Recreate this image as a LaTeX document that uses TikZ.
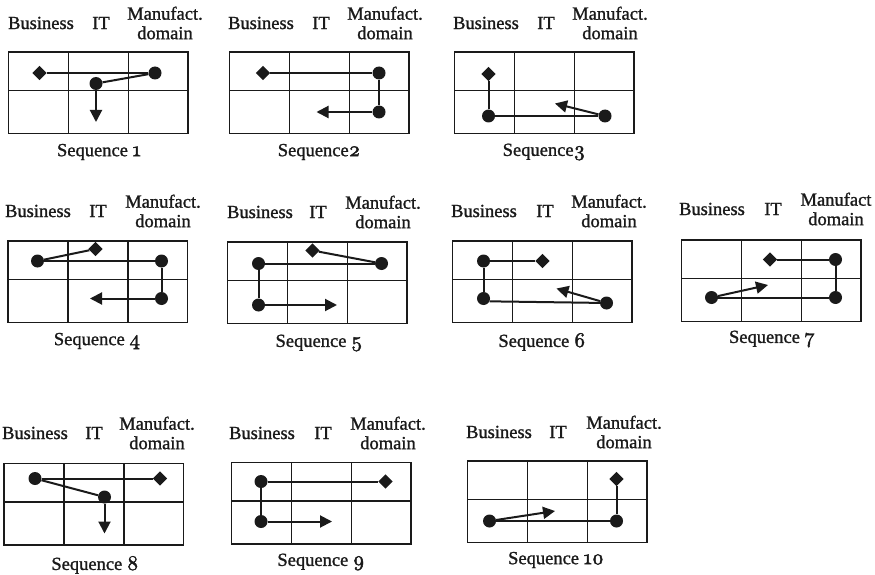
\documentclass[tikz,border=0pt]{standalone}
\usepackage{fontspec}
\setmainfont{Liberation Serif}[FakeBold=1.2]
\newfontfamily\osf{lmroman10-regular.otf}[Numbers=OldStyle,FakeBold=2,Scale=1.12]
\usetikzlibrary{arrows.meta,shapes.geometric}
\definecolor{ink}{HTML}{1A1A1A}
\tikzset{
  gridline/.style={draw=ink,line width=1.6pt},
  lbl/.style={font=\fontsize{18.5}{19.5}\selectfont,text=ink,inner sep=0pt},
  dot/.style={circle,fill=ink,minimum size=13pt,inner sep=0pt},
  dia/.style={diamond,fill=ink,minimum size=14.5pt,inner sep=0pt},
  conn/.style={draw=ink,line width=2pt},
  arr/.style={conn,-{Triangle[length=12pt,width=12pt]}}
}
\newcommand\cellgrid[2]{%
  \draw[gridline] (#1,#2) rectangle ++(179.5,81.5);
  \draw[gridline] (#1,{#2+38.5}) -- ++(179.5,0);
  \draw[gridline] ({#1+60},#2) -- ++(0,81.5);
  \draw[gridline] ({#1+120},#2) -- ++(0,81.5);}
\newcommand\header[6]{%
  \node[lbl] (bus#1) at (#3,#2) {Business};
  \node[lbl] (it#1) at (#4,#2) {IT};
  \node[lbl,align=center] (mf#1) at (#5,#2) {#6};}
\begin{document}
\begin{tikzpicture}[x=1pt,y=-1pt]
\useasboundingbox[fill=white] (0,0) rectangle (875,575);
% ---------- Sequence 1
\header{1}{23}{41}{101}{165}{Manufact.\\domain}
\cellgrid{8.5}{52}
\node[dia] (d1) at (39.5,73) {};
\node[dot] (a1) at (155,73) {};
\node[dot] (b1) at (96,83.5) {};
\coordinate (t1) at (96,122);
\draw[conn] (d1) -- (a1);
\draw[conn] (a1) -- (b1);
\draw[arr] (b1) -- (t1);
\node[lbl] (s1) at (99,152) {Sequence {\osf 1}};
% ---------- Sequence 2
\header{2}{23}{261}{321}{385}{Manufact.\\domain}
\cellgrid{229.5}{52}
\node[dia] (d2) at (263,73) {};
\node[dot] (a2) at (379,73) {};
\node[dot] (b2) at (379,112) {};
\coordinate (t2) at (316.5,112);
\draw[conn] (d2) -- (a2);
\draw[conn] (a2) -- (b2);
\draw[arr] (b2) -- (t2);
\node[lbl] (s2) at (319,152) {Sequence{\osf 2}};
% ---------- Sequence 3
\header{3}{23}{486}{546}{610}{Manufact.\\domain}
\cellgrid{454.5}{52}
\node[dia] (d3) at (488.5,74) {};
\node[dot] (a3) at (488.5,116) {};
\node[dot] (b3) at (605,116) {};
\coordinate (t3) at (555,103.5);
\draw[conn] (d3) -- (a3);
\draw[conn] (a3) -- (b3);
\draw[arr] (b3) -- (t3);
\node[lbl] (s3) at (544,152) {Sequence{\osf 3}};
% ---------- Sequence 4
\header{4}{211}{38}{98}{163}{Manufact.\\domain}
\cellgrid{8}{241}
\node[dot] (a4) at (37.5,261) {};
\node[dia] (d4) at (95.5,249) {};
\node[dot] (b4) at (161.5,261) {};
\node[dot] (c4) at (161.5,298.5) {};
\coordinate (t4) at (90,298.5);
\draw[conn] (a4) -- (d4);
\draw[conn] (a4) -- (b4);
\draw[conn] (b4) -- (c4);
\draw[arr] (c4) -- (t4);
\node[lbl] (s4) at (97,341) {Sequence {\osf 4}};
% ---------- Sequence 5
\header{5}{212}{260}{318}{383}{Manufact.\\domain}
\cellgrid{227.5}{242}
\node[dia] (d5) at (312.5,250.5) {};
\node[dot] (a5) at (381.5,263.5) {};
\node[dot] (b5) at (258.5,263.5) {};
\node[dot] (c5) at (258.5,305) {};
\coordinate (t5) at (337,305);
\draw[conn] (d5) -- (a5);
\draw[conn] (a5) -- (b5);
\draw[conn] (b5) -- (c5);
\draw[arr] (c5) -- (t5);
\node[lbl] (s5) at (319,343) {Sequence {\osf 5}};
% ---------- Sequence 6
\header{6}{211}{484}{545}{609}{Manufact.\\domain}
\cellgrid{452.5}{241}
\node[dot] (a6) at (483.5,261) {};
\node[dia] (d6) at (542.5,261) {};
\node[dot] (b6) at (483.5,298.5) {};
\node[dot] (c6) at (606.5,303) {};
\coordinate (t6) at (556.5,288.5);
\draw[conn] (a6) -- (d6);
\draw[conn] (a6) -- (b6);
\draw[conn] (b6.-25) -- (c6);
\draw[arr] (c6) -- (t6);
\node[lbl] (s6) at (542,342) {Sequence {\osf 6}};
% ---------- Sequence 7
\header{7}{209}{712}{773}{836}{Manufact\\domain}
\cellgrid{681.5}{240}
\node[dia] (d7) at (770,259.5) {};
\node[dot] (a7) at (835.5,259.5) {};
\node[dot] (b7) at (835.5,297.5) {};
\node[dot] (c7) at (711.5,297.5) {};
\coordinate (t7) at (768,285);
\draw[conn] (d7) -- (a7);
\draw[conn] (a7) -- (b7);
\draw[conn] (b7) -- (c7);
\draw[arr] (c7) -- (t7);
\node[lbl] (s7) at (772,339) {Sequence {\osf 7}};
% ---------- Sequence 8
\header{8}{433}{35}{94}{157}{Manufact.\\domain}
\cellgrid{4}{463.5}
\node[dot] (a8) at (35,478.5) {};
\node[dia] (d8) at (160,478.5) {};
\node[dot] (b8) at (104.5,497) {};
\coordinate (t8) at (104.5,533.5);
\draw[conn] (a8) -- (d8);
\draw[conn] (a8) -- (b8);
\draw[arr] (b8) -- (t8);
\node[lbl] (s8) at (95,565) {Sequence {\osf 8}};
% ---------- Sequence 9
\header{9}{433}{262}{323}{388}{Manufact.\\domain}
\cellgrid{231.5}{462.5}
\node[dot] (a9) at (261,481.5) {};
\node[dia] (d9) at (385.5,481.5) {};
\node[dot] (b9) at (261,521.5) {};
\coordinate (t9) at (332,521.5);
\draw[conn] (a9) -- (d9);
\draw[conn] (a9) -- (b9);
\draw[arr] (b9) -- (t9);
\node[lbl] (s9) at (321,562) {Sequence {\osf 9}};
% ---------- Sequence 10
\header{10}{432}{499}{558}{624}{Manufact.\\domain}
\cellgrid{467.5}{461}
\node[dia] (d10) at (616.5,479) {};
\node[dot] (a10) at (616.5,521) {};
\node[dot] (b10) at (489.5,521) {};
\coordinate (t10) at (555,511);
\draw[conn] (d10) -- (a10);
\draw[conn] (a10) -- (b10);
\draw[arr] (b10) -- (t10);
\node[lbl] (s10) at (556,560) {Sequence {\osf 10}};
\end{tikzpicture}
\end{document}
